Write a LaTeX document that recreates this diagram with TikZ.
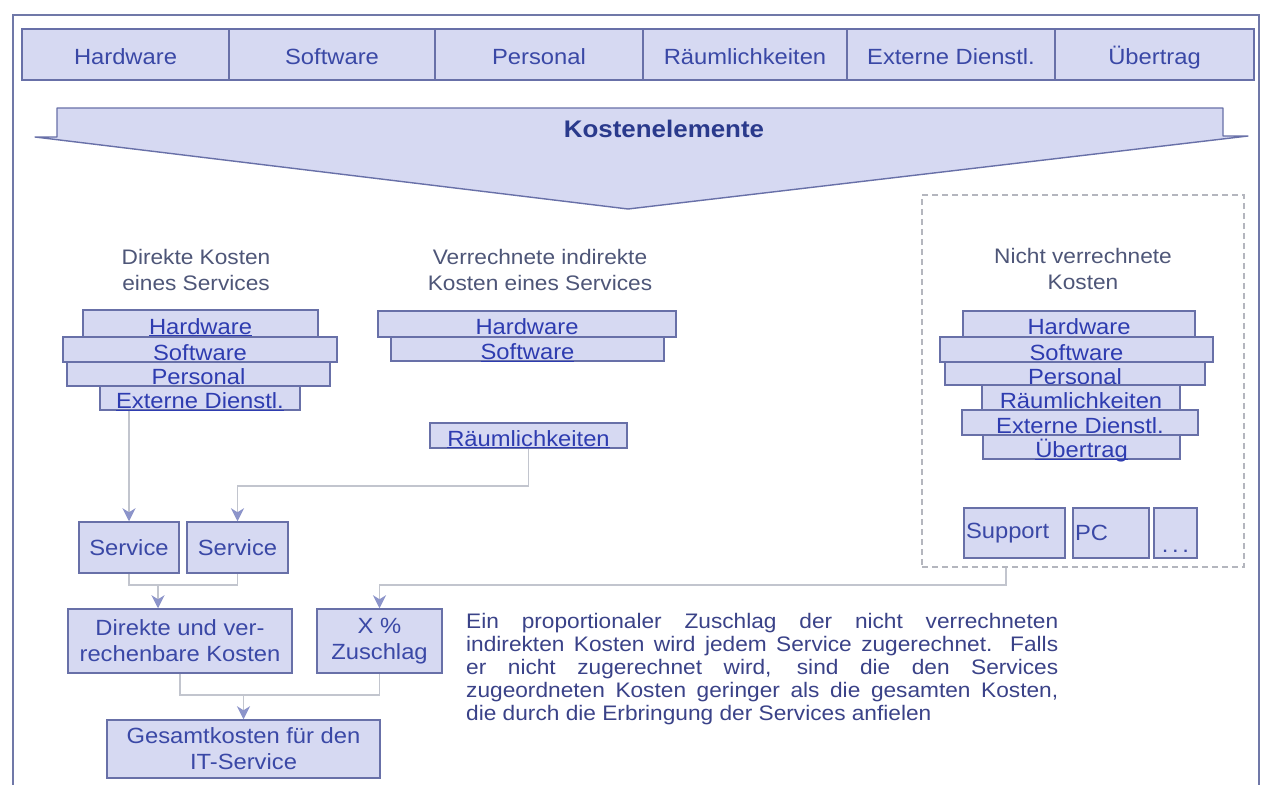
\documentclass[tikz,border=0pt]{standalone}
\usepackage{fontspec}
\setmainfont{Liberation Sans}[FakeStretch=1.08]
\usetikzlibrary{arrows.meta,calc}
\definecolor{boxfill}{HTML}{D6D9F2}
\definecolor{boxdraw}{HTML}{6870A8}
\definecolor{txtblue}{HTML}{3A48A6}
\definecolor{linkblue}{HTML}{2E3CB0}
\definecolor{hdrtxt}{HTML}{4E5678}
\definecolor{partxt}{HTML}{3A4288}
\definecolor{connc}{HTML}{C2C5CE}
\definecolor{arrc}{HTML}{8C94CA}
\definecolor{framec}{HTML}{7078A8}
\definecolor{dashc}{HTML}{B4B6BE}
\definecolor{titletxt}{HTML}{2A3A8C}
\newcommand{\fsz}[2]{\fontsize{#1}{#2}\selectfont}
\newcommand{\ulk}[1]{\underline{\smash{#1}}}
\newcommand{\mybox}[7]{\node[#6, minimum width={(#4-#2)*1pt}, minimum height={(#5-#3)*1pt}] (#1) at ({(#2+#4)/2},{(#3+#5)/2}) {#7};}
\begin{document}
\begin{tikzpicture}[x=1pt,y=-1pt,
  bar/.style={draw=boxdraw, fill=boxfill, line width=1.2pt, inner sep=0pt, text=txtblue, font=\fsz{22}{26}, text height=20pt, text depth=0pt},
  stk/.style={draw=boxdraw, fill=boxfill, line width=1.2pt, inner sep=0pt, text=linkblue, font=\fsz{22}{26}, text height=21pt, text depth=0pt},
  mainbox/.style={draw=boxdraw, fill=boxfill, line width=1.5pt, inner sep=0pt, text=txtblue, font=\fsz{22}{26}, align=center},
  hdr/.style={text=hdrtxt, font=\fsz{21}{26}, align=center, inner sep=0pt, anchor=north},
  conn/.style={draw=connc, line width=1.8pt},
  arr/.style={conn, -{Stealth[length=13pt,width=13pt,inset=4pt,color=arrc]}},
  dbox/.style={draw=dashc, dash pattern=on 6pt off 4pt, line width=1.3pt, inner sep=0pt}
]
\useasboundingbox (0,0) rectangle (1265,784);
\fill[white] (0,0) rectangle (1265,784);
% outer frame
\draw[framec, line width=2.2pt] (13,790) -- (13,15) -- (1259,15) -- (1259,790);
% top bar
\mybox{b1}{22}{29}{229}{80}{bar}{Hardware}
\mybox{b2}{229}{29}{435}{80}{bar}{Software}
\mybox{b3}{435}{29}{643}{80}{bar}{Personal}
\mybox{b4}{643}{29}{847}{80}{bar}{Räumlichkeiten}
\mybox{b5}{847}{29}{1055}{80}{bar}{Externe Dienstl.}
\mybox{b6}{1055}{29}{1254}{80}{bar}{Übertrag}
% big arrow
\draw[draw=boxdraw, fill=boxfill, line width=1.4pt, line join=round]
  (57,108) -- (1223,108) -- (1223,136) -- (1248,136) -- (628,209) -- (35,137) -- (57,137) -- cycle;
\node[anchor=base, inner sep=0pt, text=titletxt, font=\fsz{24}{28}\bfseries] (ke) at (664,137) {Kostenelemente};
% headers
\node[hdr] (h1) at (196,249) {Direkte Kosten\\eines Services};
\node[hdr] (h2) at (540,249) {Verrechnete indirekte\\Kosten eines Services};
% dashed box
\mybox{nv}{922}{195}{1244}{567}{dbox}{}
\node[hdr] (h3) at (1083,248) {Nicht verrechnete\\Kosten};
% left stack
\mybox{l1}{83}{310}{318}{337}{stk}{\ulk{Hardware}}
\mybox{l2}{63}{337}{337}{362}{stk}{\ulk{Software}}
\mybox{l3}{67}{362}{330}{386}{stk}{\ulk{Personal}}
\mybox{l4}{100}{386}{300}{410}{stk}{\ulk{Externe Dienstl.}}
% middle stack
\mybox{m1}{378}{311}{676}{337}{stk}{\ulk{Hardware}}
\mybox{m2}{391}{337}{664}{361}{stk}{\ulk{Software}}
\mybox{m3}{430}{423}{627}{448}{stk}{\ulk{Räumlichkeiten}}
% right stack
\mybox{r1}{963}{311}{1195}{337}{stk}{\ulk{Hardware}}
\mybox{r2}{940}{337}{1213}{362}{stk}{\ulk{Software}}
\mybox{r3}{945}{362}{1205}{385}{stk}{\ulk{Personal}}
\mybox{r4}{982}{385}{1180}{410}{stk}{\ulk{Räumlichkeiten}}
\mybox{r5}{962}{410}{1198}{435}{stk}{\ulk{Externe Dienstl.}}
\mybox{r6}{983}{435}{1180}{459}{stk}{\ulk{Übertrag}}
% support boxes
\node[mainbox, minimum width=101pt, minimum height=50pt, text width=97pt, align=left] (sup) at (1014.5,533) {Support};
\node[mainbox, minimum width=76pt, minimum height=50pt, text width=72pt, align=left] (pc) at (1111,533) {PC};
\node[mainbox, minimum width=43pt, minimum height=50pt, text height=38pt, text depth=0pt] (dots) at (1175.5,533) {.\,.\,.};
% lower boxes
\mybox{s1}{79}{522}{179}{573}{mainbox}{Service}
\mybox{s2}{187}{522}{288}{573}{mainbox}{Service}
\mybox{dk}{68}{609}{292}{673}{mainbox}{Direkte und ver-\\rechenbare Kosten}
\mybox{zu}{317}{609}{442}{673}{mainbox}{X \%\\Zuschlag}
\mybox{gs}{107}{720}{380}{778}{mainbox}{Gesamtkosten für den\\IT-Service}
% connectors
\draw[arr] (s1.north |- l4.south) -- (s1.north);
\draw[arr] (m3.south) -- ++(0,37) -| (s2.north);
\coordinate (j1) at (158,585);
\draw[conn] (s1.south) |- (s2.south |- j1) -- (s2.south);
\draw[arr] (j1) -- (j1 |- dk.north);
\coordinate (j2) at (1006,585);
\draw[arr] (nv.south -| j2) -- (j2) -| (zu.north);
\coordinate (j3) at (243.5,695);
\draw[conn] (dk.south) |- (zu.south |- j3) -- (zu.south);
\draw[arr] (j3) -- (gs.north);
% paragraph
\node[anchor=north west, inner sep=0pt, text=partxt, font=\fsz{21}{23}, align=left] (para) at (466,613)
 {\makebox[592pt][s]{Ein proportionaler Zuschlag der nicht verrechneten}\\
  \makebox[592pt][s]{indirekten Kosten wird jedem Service zugerechnet. Falls}\\
  \makebox[592pt][s]{er nicht zugerechnet wird, sind die den Services}\\
  \makebox[592pt][s]{zugeordneten Kosten geringer als die gesamten Kosten,}\\
  die durch die Erbringung der Services anfielen};
\end{tikzpicture}
\end{document}
